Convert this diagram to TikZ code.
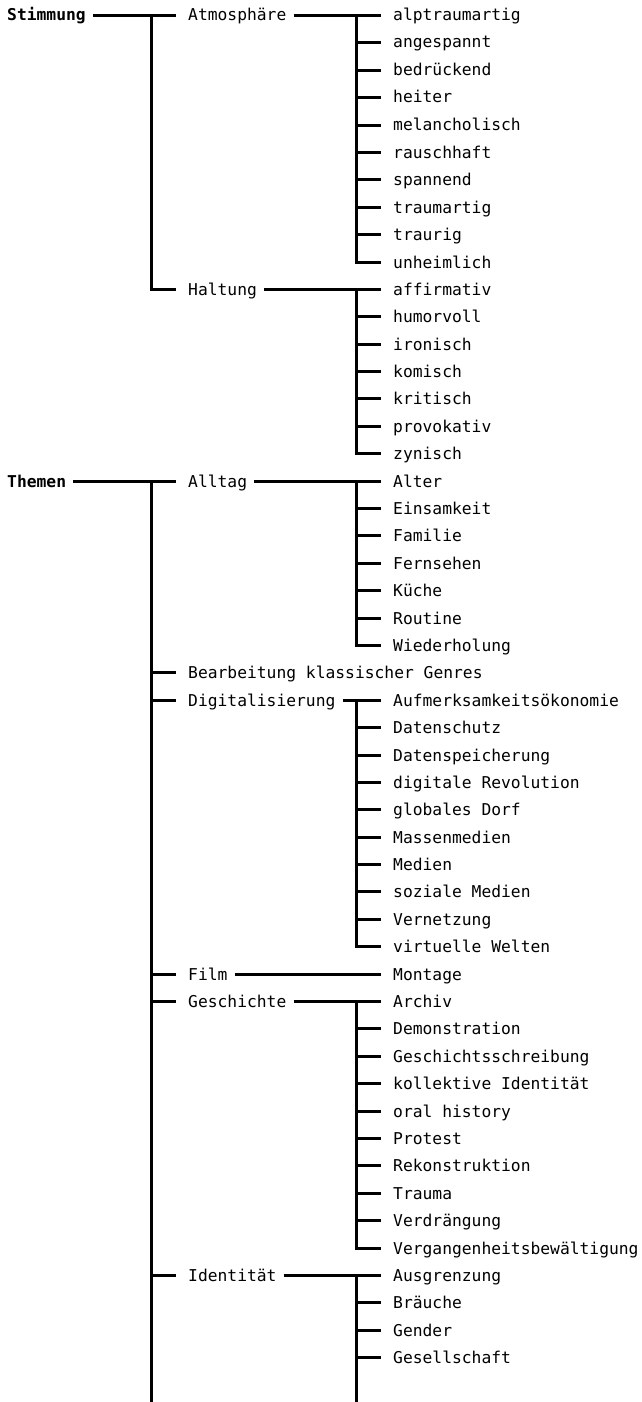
\documentclass[tikz,border=0pt]{standalone}
\usepackage{fontspec}
\setmonofont{DejaVu Sans Mono}
\usetikzlibrary{positioning}

\tikzset{
	lbl/.style={anchor=west,inner xsep=0pt,inner ysep=0pt,text height=14pt,text depth=3pt,font=\ttfamily\fontsize{16.3}{20}\selectfont},
	head/.style={lbl,font=\ttfamily\bfseries\fontsize{16.3}{20}\selectfont},
	link/.style={line width=3pt},
}

\begin{document}
\begin{tikzpicture}[x=1pt,y=-1pt]
	\def\r{27.39}  %row pitch
	\def\xa{7}     %level 0 text
	\def\xb{188}   %level 1 text
	\def\xc{393}   %level 2 text
	\def\ja{151.5} %level 0 trunk
	\def\jb{356.5} %level 1 trunk
	
	\useasboundingbox (0,0) rectangle (642,1402);
	
	%STIMMUNG
	\node[head] (stim) at (\xa,{round(15+0*\r)+0.5}) {Stimmung};
	\node[lbl] (atm) at (\xb,{round(15+0*\r)+0.5}) {Atmosphäre};
	\node[lbl] (hal) at (\xb,{round(15+10*\r)+0.5}) {Haltung};
	\foreach \t [count=\i from 0] in {alptraumartig,angespannt,bedrückend,heiter,melancholisch,rauschhaft,spannend,traumartig,traurig,unheimlich}
		\node[lbl] (atm\i) at (\xc,{round(15+\i*\r)+0.5}) {\t};
	\foreach \t [count=\i from 0] in {affirmativ,humorvoll,ironisch,komisch,kritisch,provokativ,zynisch}
		\node[lbl] (hal\i) at (\xc,{round(15+(10+\i)*\r)+0.5}) {\t};
	
	%THEMEN
	\node[head] (them) at (\xa,{round(15+17*\r)+0.5}) {Themen};
	\node[lbl] (all) at (\xb,{round(15+17*\r)+0.5}) {Alltag};
	\node[lbl] (bea) at (\xb,{round(15+24*\r)+0.5}) {Bearbeitung klassischer Genres};
	\node[lbl] (dig) at (\xb,{round(15+25*\r)+0.5}) {Digitalisierung};
	\node[lbl] (film) at (\xb,{round(15+35*\r)+0.5}) {Film};
	\node[lbl] (ges) at (\xb,{round(15+36*\r)+0.5}) {Geschichte};
	\node[lbl] (ide) at (\xb,{round(15+46*\r)+0.5}) {Identität};
	\foreach \t [count=\i from 0] in {Alter,Einsamkeit,Familie,Fernsehen,Küche,Routine,Wiederholung}
		\node[lbl] (all\i) at (\xc,{round(15+(17+\i)*\r)+0.5}) {\t};
	\foreach \t [count=\i from 0] in {Aufmerksamkeitsökonomie,Datenschutz,Datenspeicherung,digitale Revolution,globales Dorf,Massenmedien,Medien,soziale Medien,Vernetzung,virtuelle Welten}
		\node[lbl] (dig\i) at (\xc,{round(15+(25+\i)*\r)+0.5}) {\t};
	\node[lbl] (film0) at (\xc,{round(15+35*\r)+0.5}) {Montage};
	\foreach \t [count=\i from 0] in {Archiv,Demonstration,Geschichtsschreibung,kollektive Identität,oral history,Protest,Rekonstruktion,Trauma,Verdrängung,Vergangenheitsbewältigung}
		\node[lbl] (ges\i) at (\xc,{round(15+(36+\i)*\r)+0.5}) {\t};
	\foreach \t [count=\i from 0] in {Ausgrenzung,Bräuche,Gender,Gesellschaft}
		\node[lbl] (ide\i) at (\xc,{round(15+(46+\i)*\r)+0.5}) {\t};
	
	%JUNCTIONS
	\coordinate (jstim) at (stim.east -| \ja,0);
	\coordinate (jthem) at (them.east -| \ja,0);
	\coordinate (jatm) at (atm.east -| \jb,0);
	\coordinate (jhal) at (hal.east -| \jb,0);
	\coordinate (jall) at (all.east -| \jb,0);
	\coordinate (jdig) at (dig.east -| \jb,0);
	\coordinate (jges) at (ges.east -| \jb,0);
	\coordinate (jide) at (ide.east -| \jb,0);
	\coordinate (bot) at (0,1410);
	
	%LEVEL 0 LINKS
	\draw[link] ([xshift=7pt]stim.east) -- ([xshift=-12pt]atm.west);
	\draw[link] (jstim) |- ([xshift=-12pt]hal.west);
	\draw[link] ([xshift=7pt]them.east) -- ([xshift=-12pt]all.west);
	\draw[link] (jthem) -- (jthem |- bot);
	\foreach \n in {bea,dig,film,ges,ide}
		\draw[link] (jthem |- \n.west) -- ([xshift=-12pt]\n.west);
	
	%LEVEL 1 LINKS
	\foreach \n/\k in {atm/9,hal/6,all/6,dig/9,ges/9}{
		\draw[link] ([xshift=7pt]\n.east) -- ([xshift=-12pt]\n0.west);
		\foreach \i in {1,...,\k}
			\draw[link] (j\n) |- ([xshift=-12pt]\n\i.west);
	}
	\draw[link] ([xshift=7pt]film.east) -- ([xshift=-12pt]film0.west);
	\draw[link] ([xshift=7pt]ide.east) -- ([xshift=-12pt]ide0.west);
	\draw[link] (jide) -- (jide |- bot);
	\foreach \i in {1,2,3}
		\draw[link] (jide |- ide\i.west) -- ([xshift=-12pt]ide\i.west);
\end{tikzpicture}
\end{document}
